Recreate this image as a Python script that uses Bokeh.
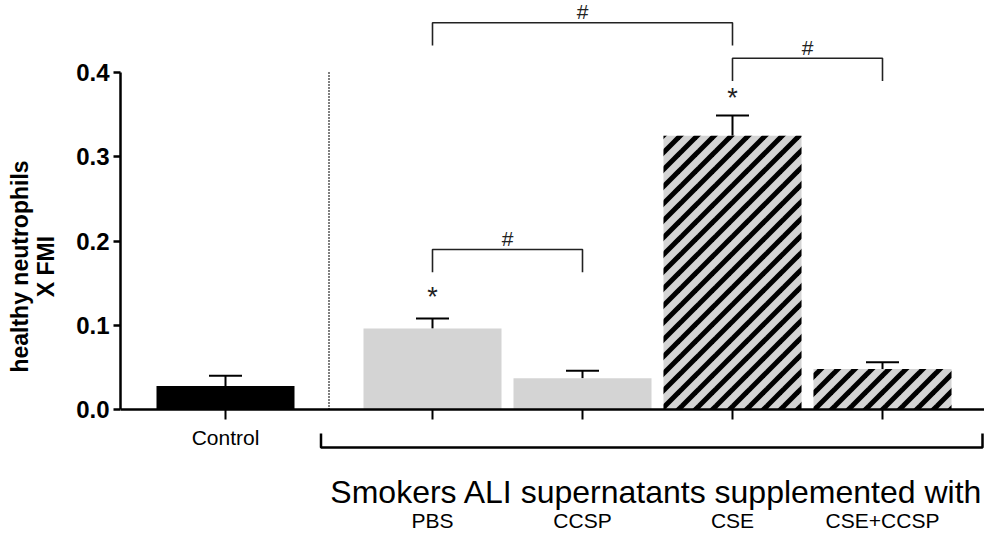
import base64
from bokeh.plotting import figure
from bokeh.models import (ColumnDataSource, Whisker, TeeHead, Span, FixedTicker, Range1d,
                          NumeralTickFormatter, ImageURLTexture)
from bokeh.embed import file_html
from bokeh.resources import INLINE
from bokeh.core.properties import value

# ---------------- data ----------------
groups = ["Control", "PBS", "CCSP", "CSE", "CSE+CCSP"]
means = [0.028, 0.096, 0.037, 0.325, 0.048]
sems = [0.012, 0.012, 0.009, 0.024, 0.008]
hatched = [False, False, False, True, True]
sig_pairs = [(1, 3), (3, 4), (1, 2)]
sig_levels = [0.459, 0.417, 0.190]
sig_marks = ["#", "#", "#"]
star_groups = [1, 3]
star_levels = [0.134, 0.370]
y_ticks = [0.0, 0.1, 0.2, 0.3, 0.4]
group_title = "Smokers ALI supernatants supplemented with"
y_label = "healthy neutrophils\nX FMI"

# ---------------- layout ----------------
FONT = "Liberation Sans"
W, H = 984, 532
LEFT = 120
FRAME_W = W - LEFT
FRAME_H = H
GAP = 1.38
BAR_W = 0.92
xs = [0.0] + [GAP + i for i in range(len(groups) - 1)]
X_PER_PX = 1 / 150
Y_PER_PX = 0.4 / 337
x_start = xs[0] - 105 * X_PER_PX
x_end = x_start + FRAME_W * X_PER_PX
y_end = 409 * Y_PER_PX
y_start = y_end - FRAME_H * Y_PER_PX


def py(n):
    return n * Y_PER_PX


def px(n):
    return n * X_PER_PX


# diagonal stripe tile (45 degrees, black on transparent)
T = 17
tile = (f'<svg xmlns="http://www.w3.org/2000/svg" width="{T}" height="{T}">'
        f'<g stroke="black" stroke-width="5" stroke-linecap="square">'
        f'<line x1="{-T}" y1="{T}" x2="{T}" y2="{-T}"/>'
        f'<line x1="0" y1="{T}" x2="{T}" y2="0"/>'
        f'<line x1="0" y1="{2*T}" x2="{2*T}" y2="0"/>'
        f'</g></svg>')
stripe_url = "data:image/svg+xml;base64," + base64.b64encode(tile.encode()).decode()

p = figure(width=W, height=H, output_backend="svg", toolbar_location=None,
           x_range=Range1d(x_start, x_end), y_range=Range1d(y_start, y_end),
           x_axis_location=None, min_border_left=LEFT, min_border_right=0,
           min_border_top=0, min_border_bottom=0)
p.outline_line_color = None
p.grid.visible = False
p.background_fill_color = "white"
p.border_fill_color = "white"

# y axis
ya = p.yaxis[0]
ya.bounds = (0, 0.4)
ya.ticker = FixedTicker(ticks=y_ticks)
ya.formatter = NumeralTickFormatter(format="0.0")
ya.minor_tick_line_color = None
ya.major_tick_in = 0
ya.major_tick_out = 7
ya.axis_line_width = 2.5
ya.major_tick_line_width = 2.5
ya.major_label_text_font = FONT
ya.major_label_text_font_style = "bold"
ya.major_label_text_font_size = "24px"
ya.major_label_text_color = "black"
ya.major_label_standoff = 4
ya.axis_label = y_label
ya.axis_label_text_font = FONT
ya.axis_label_text_font_style = "bold"
ya.axis_label_text_font_size = "23px"
ya.axis_label_text_color = "black"
ya.axis_label_text_line_height = 1.0
ya.axis_label_standoff = 14

# bars
src = ColumnDataSource(dict(
    x=xs, top=means,
    upper=[m + s for m, s in zip(means, sems)],
    fill=["black"] + ["#d4d4d4"] * (len(groups) - 1),
    hatch=["stripes" if h else " " for h in hatched],
))
p.vbar(x="x", top="top", width=BAR_W, bottom=0, source=src, fill_color="fill",
       line_color=None, hatch_pattern="hatch",
       hatch_extra={"stripes": ImageURLTexture(url=stripe_url)})

p.add_layout(Whisker(base="x", lower="top", upper="upper", source=src,
                     line_width=2, line_color="black",
                     upper_head=TeeHead(size=33, line_width=2, line_color="black"),
                     lower_head=None))

# x axis line and ticks
p.add_layout(Span(location=0, dimension="width", line_color="black", line_width=2.5))
p.segment(x0=xs, x1=xs, y0=[0] * len(xs), y1=[-py(10)] * len(xs),
          line_color="black", line_width=2)

# divider between control and smokers
div_x = (xs[0] + xs[1]) / 2
p.segment(x0=[div_x], x1=[div_x], y0=[0], y1=[0.4], line_color="black",
          line_width=2, line_dash="1 2")

# significance brackets
LEG = 0.027
bx, by = [], []
for (i, j), lvl in zip(sig_pairs, sig_levels):
    bx.append([xs[i], xs[i], xs[j], xs[j]])
    by.append([lvl - LEG, lvl, lvl, lvl - LEG])
p.multi_line(xs=bx, ys=by, line_color="#222222", line_width=1.6)
p.text(x=[(xs[i] + xs[j]) / 2 for i, j in sig_pairs],
       y=[lvl + py(11) for lvl in sig_levels], text=sig_marks,
       text_font=value(FONT), text_font_size="21px", text_align="center",
       text_baseline="middle", text_color="#222222")
p.text(x=[xs[g] for g in star_groups], y=star_levels, text=["*"] * len(star_groups),
       text_font=value(FONT), text_font_size="27px", text_align="center",
       text_baseline="middle", text_color="#222222")

# category labels
p.text(x=[xs[0]], y=[-py(28)], text=[groups[0]], text_font=value(FONT),
       text_font_size="21px", text_align="center", text_baseline="middle",
       text_color="black")
p.text(x=xs[1:], y=[-py(111)] * (len(groups) - 1), text=groups[1:],
       text_font=value(FONT), text_font_size="21px", text_align="center",
       text_baseline="middle", text_color="black")

# smokers bracket + title
bl = div_x - px(8)
br = x_end - px(2)
p.multi_line(xs=[[bl, bl, br, br]], ys=[[-py(24), -py(38), -py(38), -py(24)]],
             line_color="black", line_width=2.5)
p.text(x=[(bl + br) / 2 + px(5)], y=[-py(82)], text=[group_title], text_font=value(FONT),
       text_font_size="32px", text_align="center", text_baseline="middle",
       text_color="black")

open("out.html", "w").write(file_html(p, INLINE))
